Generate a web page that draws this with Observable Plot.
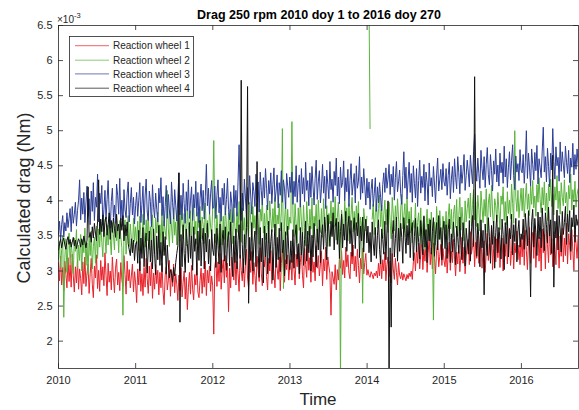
<!DOCTYPE html>
<html>
<head>
<meta charset="utf-8">
<script src="https://cdn.jsdelivr.net/npm/d3@7"></script>
<script src="https://cdn.jsdelivr.net/npm/@observablehq/plot@0.6"></script>
<style>
html,body{margin:0;padding:0;background:#fff;}
#chart{width:579px;height:410px;}
</style>
</head>
<body>
<div id="chart"></div>
<script>
// Values in units of 1e-5 Nm (358 -> 3.58 x 10^-3), one sample every 5 days from 2010 doy 1
const startYear = 2010;
const stepDays = 5;
const seriesNames = ["Reaction wheel 1", "Reaction wheel 2", "Reaction wheel 3", "Reaction wheel 4"];
const seriesColors = ["#e8212a", "#5ab43c", "#2c3e97", "#111111"];
const yTicks = [2, 2.5, 3, 3.5, 4, 4.5, 5, 5.5, 6, 6.5];
const xTicks = [2010, 2011, 2012, 2013, 2014, 2015, 2016];

const wheel1 = [
312,286,321,280,305,272,314,295,276,319,285,309,277,324,293,270,306,283,316,274,303,289,266,313,282,320,278,297,310,268,296,318,281,262,307,290,323,275,301,271,315,287,306,279,326,294,265,311,284,300,273,320,291,269,304,317,280,298,272,312,288,278,322,295,267,314,286,302,276,293,310,270,299,283,
255,303,280,314,271,296,265,305,277,318,289,268,307,279,312,261,297,274,309,282,301,266,298,276,311,270,252,293,306,273,287,315,264,302,278,310,269,296,281,258,294,272,305,263,284,300,260,291,245,276,298,267,308,274,259,295,280,311,270,262,286,304,268,297,277,314,265,301,283,307,271,293,279,
210,306,318,278,313,285,325,274,302,316,283,322,291,311,242,304,276,320,307,287,327,280,314,296,271,323,301,286,318,277,309,331,290,275,317,298,328,281,312,294,270,321,303,285,333,297,279,315,306,324,292,273,318,300,329,282,313,296,276,326,304,288,320,272,311,332,299,284,316,302,323,287,308,
316,287,329,302,280,324,306,335,289,312,327,294,276,332,309,291,338,301,319,284,330,298,313,286,336,304,322,293,310,328,279,317,300,334,288,320,307,296,237,299,290,281,309,273,302,287,318,304,329,295,315,290,334,306,323,297,289,327,310,337,300,321,292,331,308,283,318,303,333,296,312,325,294,
302,294,291,299,295,289,297,293,300,290,311,293,322,289,316,300,327,286,309,320,292,314,283,325,303,288,318,298,280,312,294,289,298,287,296,291,286,295,289,297,292,300,288,313,326,300,335,311,340,303,324,344,302,331,314,342,298,325,347,309,333,303,340,318,296,329,343,306,321,338,308,332,315,
306,333,297,324,341,301,328,312,345,316,293,327,310,337,299,322,348,311,334,296,320,339,345,309,356,324,336,352,306,341,318,350,311,335,358,304,330,343,298,327,354,315,339,323,360,302,332,349,313,346,319,355,305,331,347,300,338,321,353,310,342,361,308,329,351,303,340,326,357,316,337,309,348,
320,351,308,358,329,302,343,362,311,337,355,318,364,305,340,357,314,348,300,360,326,352,303,359,338,312,366,323,346,306,356,334,309,363,341,304,350,321,361,313,347,322,368,310,353,336,316,359,329,301,357,339,318,349
];
const wheel2 = [
316,342,305,331,350,234,319,346,298,336,354,309,341,323,296,347,328,359,304,337,315,352,300,344,326,361,308,340,295,349,322,357,303,335,348,311,364,318,360,334,370,341,320,374,350,325,366,337,378,345,323,369,352,330,376,343,361,326,372,348,333,237,358,373,324,355,379,335,367,346,327,375,342,363,
338,371,329,378,350,325,381,356,334,373,343,386,330,363,339,380,348,324,376,354,384,333,366,341,388,328,372,357,345,415,360,335,383,364,340,390,351,370,337,387,358,342,393,367,346,382,361,336,389,365,349,386,341,374,395,352,371,338,384,362,392,346,377,366,339,397,355,372,348,385,364,350,390,
486,368,340,380,355,332,385,360,337,378,345,391,364,334,383,352,388,368,339,395,363,347,384,355,399,370,341,390,358,376,333,389,366,350,398,372,343,392,361,379,352,397,368,338,388,371,402,354,382,345,394,365,340,400,375,356,389,362,405,348,380,367,396,357,384,503,275,370,398,351,388,359,377,
368,513,380,349,396,366,340,390,358,402,371,345,394,362,336,399,369,351,388,360,404,347,378,364,395,341,401,370,355,389,348,403,373,357,393,335,382,367,400,352,391,363,406,344,376,398,361,150,387,370,350,400,372,390,343,396,365,381,405,356,385,358,393,368,399,347,377,362,254,389,371,357,378,
null,680,503,null,374,395,352,383,402,361,389,408,363,394,347,380,401,366,388,355,398,370,346,405,381,357,393,364,403,374,343,387,409,360,379,396,349,404,368,385,354,391,340,372,361,397,336,369,383,350,390,338,367,379,331,362,388,346,375,342,384,353,230,370,337,392,364,345,386,358,341,378,363,
356,385,344,377,396,360,388,348,381,394,362,402,350,379,405,358,391,371,343,400,370,389,404,375,411,364,395,416,373,399,363,408,388,357,414,392,369,402,378,417,355,397,410,377,422,384,361,403,393,370,412,386,359,407,395,420,372,399,366,413,382,401,374,424,396,368,500,405,385,415,376,398,418,
386,418,377,404,425,388,410,379,421,395,429,390,407,378,423,398,433,402,383,419,394,427,386,411,372,424,400,431,392,409,380,420,401,436,389,414,381,426,405,393,430,397,412,379,422,403,438,387,416,399,428,391,409,417
];
const wheel3 = [
352,371,344,366,379,348,369,357,383,362,375,389,356,392,368,381,398,364,386,401,430,373,404,381,412,369,397,421,378,403,366,414,385,426,372,405,391,438,370,411,396,422,365,388,415,374,402,429,383,361,399,418,377,394,368,424,408,381,432,373,401,364,416,387,376,410,427,370,396,419,380,405,367,393,
412,378,401,426,369,395,421,366,407,431,384,372,414,399,363,423,391,376,411,388,370,418,397,433,379,406,364,392,422,375,409,387,367,427,398,374,416,394,371,404,440,380,408,373,425,396,368,413,386,430,375,401,420,372,409,390,428,378,412,369,403,424,386,415,374,406,452,393,418,381,410,429,389,
391,421,375,408,430,383,405,371,418,394,425,380,402,432,388,373,413,397,369,422,390,415,378,428,480,400,372,411,386,431,404,377,419,395,436,407,381,426,413,392,438,401,427,384,441,415,394,433,404,446,418,387,429,410,440,396,423,447,399,414,437,390,426,408,443,398,430,417,389,439,421,405,434,
412,441,395,428,406,450,398,425,437,391,446,410,433,399,455,415,429,393,440,405,449,421,394,432,458,402,427,443,397,418,452,411,435,389,444,423,403,456,416,431,398,442,422,461,407,434,396,448,419,426,457,400,433,413,445,392,429,453,408,424,439,397,450,418,428,463,402,434,411,446,421,394,432,
404,427,388,416,431,392,411,433,385,420,397,426,405,386,423,440,412,447,418,431,452,409,438,420,449,401,433,456,413,427,444,410,395,436,470,418,448,403,430,455,412,439,398,450,425,404,446,392,429,458,411,435,419,452,400,441,426,394,454,421,433,406,449,424,397,437,461,414,430,445,416,453,427,
421,446,408,436,455,403,431,449,412,460,433,417,463,440,410,451,425,442,466,415,436,458,441,420,465,444,424,470,495,450,428,461,439,418,472,446,430,463,419,452,476,437,423,466,443,414,457,438,474,427,451,421,468,440,455,425,478,434,460,419,447,470,430,458,480,436,416,464,441,453,429,473,444,
440,466,425,455,500,432,468,447,421,474,452,430,469,443,479,424,460,448,433,471,505,441,463,427,475,449,420,468,444,503,456,431,477,450,462,428,484,442,470,451,433,478,455,439,472,426,461,448,482,437,466,445,474,452
];
const wheel4 = [
330,339,345,333,342,347,337,331,343,349,338,345,334,341,348,336,344,332,340,346,342,334,346,337,350,341,333,344,420,348,355,341,363,347,368,354,343,371,430,352,374,356,380,349,369,377,351,366,383,345,372,355,376,360,348,381,357,367,346,375,358,379,343,366,350,370,339,330,322,346,326,344,315,338,
342,311,358,300,347,318,362,306,339,354,297,331,357,313,344,303,360,324,295,350,316,365,308,341,299,356,322,349,296,337,310,290,302,296,284,305,293,312,325,336,440,227,352,306,366,325,298,360,339,312,369,318,350,301,363,328,346,294,357,315,372,307,342,361,303,354,327,368,310,345,300,359,331,
322,353,305,361,336,310,367,298,346,358,314,363,301,341,356,307,370,327,292,350,312,360,303,343,366,318,572,338,297,352,309,362,563,254,348,315,369,300,340,357,306,456,331,291,362,313,347,283,364,320,354,296,371,311,342,359,287,335,367,305,348,316,361,299,369,326,344,293,356,310,364,330,302,
343,312,359,304,350,366,317,339,296,362,323,355,308,345,371,314,357,326,364,300,351,320,368,340,306,360,330,373,312,352,366,331,377,354,316,380,360,335,371,349,383,330,363,375,338,370,318,356,381,333,367,344,385,328,362,378,339,372,321,358,376,332,369,350,382,319,364,343,377,327,361,374,340,
364,326,355,313,370,340,322,362,318,351,373,331,310,360,345,324,371,316,357,400,150,333,220,352,372,320,346,377,314,361,328,368,348,311,376,353,325,365,337,374,319,357,369,315,349,375,327,363,341,317,372,350,323,378,334,359,312,367,343,373,324,356,376,321,352,369,330,379,345,362,316,358,371,
332,366,318,359,374,312,353,327,370,341,309,364,348,325,377,336,316,369,350,307,361,343,324,372,314,357,379,335,577,363,321,368,347,306,373,333,358,266,367,340,322,376,349,311,365,338,371,304,355,380,326,362,345,317,374,352,302,369,339,378,320,360,346,381,323,366,342,375,313,357,372,334,353,
345,374,331,382,360,336,386,343,263,370,388,334,375,355,322,384,346,377,333,390,362,329,383,366,340,391,350,373,325,465,277,371,347,387,330,379,360,327,385,352,369,392,338,381,356,386,328,376,363,394,341,380,365,374
];

const allSeries = [wheel1, wheel2, wheel3, wheel4];
const rows = [];
allSeries.forEach((arr, k) => {
  arr.forEach((v, i) => {
    rows.push({series: seriesNames[k], t: startYear + i * stepDays / 365.25, v: v == null ? NaN : v / 100});
  });
});

const W = 579, H = 410, mL = 58, mR = 1, mT = 25, mB = 42;
const fw = W - mL - mR, fh = H - mT - mB;
const axisColor = "#262626";
const font = "'Liberation Sans', Arial, Helvetica, sans-serif";

const lineMarks = seriesNames.map((name, k) =>
  Plot.line(rows.filter(r => r.series === name), {x: "t", y: "v", stroke: seriesColors[k], strokeWidth: 1, clip: true})
);

const chart = Plot.plot({
  width: W, height: H,
  marginLeft: mL, marginRight: mR, marginTop: mT, marginBottom: mB,
  style: {fontFamily: font, fontSize: "11px", color: axisColor, background: "#fff"},
  x: {domain: [2010, 2016.74]},
  y: {domain: [1.61, 6.5]},
  marks: [
    ...lineMarks,
    Plot.axisY(yTicks, {tickSize: 0, tickPadding: 6, tickFormat: d => String(d), label: null, fill: axisColor}),
    Plot.axisX(xTicks, {tickSize: 0, tickPadding: 8, tickFormat: d => String(d), label: null, fill: axisColor}),
    Plot.tickY(yTicks, {y: d => d, insetRight: fw - 5, stroke: axisColor, strokeWidth: 0.8}),
    Plot.tickY(yTicks, {y: d => d, insetLeft: fw - 5, stroke: axisColor, strokeWidth: 0.8}),
    Plot.tickX(xTicks, {x: d => d, insetTop: fh - 5, stroke: axisColor, strokeWidth: 0.8}),
    Plot.tickX(xTicks, {x: d => d, insetBottom: fh - 5, stroke: axisColor, strokeWidth: 0.8}),
    Plot.frame({stroke: axisColor, strokeWidth: 0.8})
  ]
});

const svg = d3.select(chart);

// title
svg.append("text").attr("x", 319).attr("y", 19).attr("text-anchor", "middle")
  .attr("font-family", font).attr("font-size", 12.5).attr("font-weight", "bold").attr("fill", "#000")
  .text("Drag 250 rpm 2010 doy 1 to 2016 doy 270");
// exponent
const ex = svg.append("text").attr("x", 57).attr("y", 23).attr("text-anchor", "start")
  .attr("font-family", font).attr("font-size", 10).attr("fill", axisColor);
ex.append("tspan").text("\u00d710");
ex.append("tspan").attr("dy", -5).attr("font-size", 7.5).text("-3");
// x label
svg.append("text").attr("x", 318).attr("y", 405).attr("text-anchor", "middle")
  .attr("font-family", font).attr("font-size", 17).attr("fill", axisColor).text("Time");
// y label
svg.append("text").attr("transform", "translate(30,198) rotate(-90)").attr("text-anchor", "middle")
  .attr("font-family", font).attr("font-size", 18).attr("fill", axisColor).text("Calculated drag (Nm)");

// legend
const lg = svg.append("g");
lg.append("rect").attr("x", 69.5).attr("y", 36.5).attr("width", 124).attr("height", 60)
  .attr("fill", "#fff").attr("stroke", axisColor).attr("stroke-width", 0.8);
const ly = [45.7, 60.2, 73.9, 88.2];
seriesNames.forEach((name, k) => {
  lg.append("line").attr("x1", 75).attr("x2", 109).attr("y1", ly[k]).attr("y2", ly[k])
    .attr("stroke", seriesColors[k]).attr("stroke-width", 0.7);
  lg.append("text").attr("x", 113).attr("y", ly[k] + 3.6).attr("text-anchor", "start")
    .attr("font-family", font).attr("font-size", 10).attr("fill", axisColor).text(name);
});

document.getElementById("chart").appendChild(chart);
</script>
</body>
</html>
